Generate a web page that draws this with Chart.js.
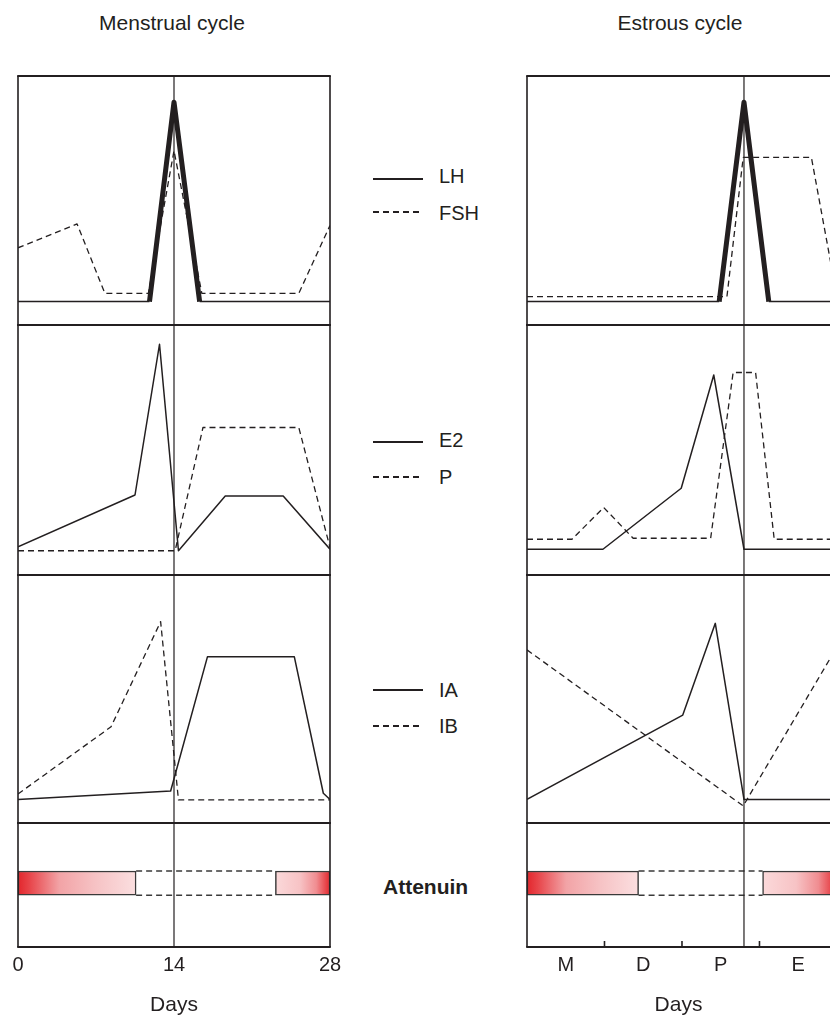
<!DOCTYPE html>
<html>
<head>
<meta charset="utf-8">
<script src="https://cdn.jsdelivr.net/npm/chart.js@4.4.0/dist/chart.umd.min.js"></script>
<style>
html,body{margin:0;padding:0;background:#fff;}
body{width:830px;height:1016px;overflow:hidden;position:relative;font-family:"Liberation Sans",Arial,Helvetica,sans-serif;color:#231f20;}
.txt{position:absolute;white-space:nowrap;line-height:1;}
.title{font-size:21px;width:300px;text-align:center;}
.lg{font-size:20px;left:439px;}
.sw{position:absolute;width:50px;left:373px;}
.solid{height:2px;background:#231f20;}
.dash{height:1.6px;background:repeating-linear-gradient(to right,#231f20 0 6px,transparent 6px 10px);}
.bold{font-size:21px;font-weight:bold;left:383px;}
canvas{position:absolute;}
</style>
</head>
<body>
<div class="txt title" style="left:22px;top:12px">Menstrual cycle</div>
<div class="txt title" style="left:530px;top:12px">Estrous cycle</div>

<div class="sw solid" style="top:178px"></div><div class="txt lg" style="top:166.4px">LH</div>
<div class="sw dash" style="top:211px"></div><div class="txt lg" style="top:203.1px">FSH</div>

<div class="sw solid" style="top:441px"></div><div class="txt lg" style="top:430.4px">E2</div>
<div class="sw dash" style="top:476px"></div><div class="txt lg" style="top:467.1px">P</div>

<div class="sw solid" style="top:689px"></div><div class="txt lg" style="top:679.6px">IA</div>
<div class="sw dash" style="top:725px"></div><div class="txt lg" style="top:716px">IB</div>

<div class="txt bold" style="top:876.2px">Attenuin</div>

<script>
// ---------- DATA ----------
// Menstrual cycle (x = day of cycle)
const menstrualTickDays = [0, 14, 28];
const menstrualTickLabels = ['0', '14', '28'];
const menstrualOvulationDay = 14;

const lhDaysM  = [0, 11.8, 14, 16.3, 28];
const lhValsM  = [9.4, 9.4, 89.5, 9.4, 9.4];
const fshDaysM = [0, 5.3, 7.8, 11.7, 14, 16.5, 25.2, 28];
const fshValsM = [31, 40.6, 12.7, 12.7, 70, 12.7, 12.7, 40];

const e2DaysM  = [0, 10.5, 12.7, 14.4, 18.6, 23.8, 28];
const e2ValsM  = [11.3, 32, 92.3, 9.7, 31.6, 31.6, 10.3];
const pDaysM   = [0, 14.1, 16.6, 25.2, 28];
const pValsM   = [9.7, 9.7, 59, 59, 11];

const iaDaysM  = [0, 13.7, 17, 24.8, 27.4, 28];
const iaValsM  = [9.5, 12.9, 67, 67, 12, 9.5];
const ibDaysM  = [0, 8.35, 12.8, 14.4, 28];
const ibValsM  = [11.7, 38.8, 81.2, 9.3, 9.3];

const attenuinHighM = [[0, 10.6], [23.1, 28]];
const attenuinLowM  = [10.6, 23.1];

// Estrous cycle (x = phase units: M, D, P, E)
const estrousPhaseLabels = ['M', 'D', 'P', 'E'];
const estrousLabelPos    = [0.5, 1.5, 2.5, 3.5];
const estrousPhaseBounds = [1, 2, 3];
const estrousOvulation   = 2.8;

const lhX_E  = [0, 2.48, 2.8, 3.12, 4];
const lhV_E  = [9.4, 9.4, 89.5, 9.4, 9.4];
const fshX_E = [0, 2.58, 2.79, 3.67, 4];
const fshV_E = [11.4, 11.4, 67.3, 67.3, 11.4];

const e2X_E  = [0, 0.98, 1.99, 2.41, 2.8, 4];
const e2V_E  = [10.3, 10.3, 34.7, 80, 10.3, 10.3];
const pX_E   = [0, 0.58, 0.99, 1.37, 2.37, 2.66, 2.95, 3.19, 4];
const pV_E   = [14.3, 14.3, 27, 14.7, 14.7, 81, 81, 14.3, 14.3];

const iaX_E  = [0, 2.01, 2.43, 2.8, 4];
const iaV_E  = [9.5, 43.5, 80.5, 9.5, 9.5];
const ibX_E  = [0, 2.79, 4];
const ibV_E  = [69.8, 6.9, 71];

const attenuinHighE = [[0, 1.44], [3.04, 4]];
const attenuinLowE  = [1.44, 3.04];

// ---------- STYLE / LAYOUT ----------
const INK = '#231f20';
const FONT = "'Liberation Sans', Arial, Helvetica, sans-serif";
const BAND_MID = 51.5, BAND_TOP = 61.3, BAND_BOT = 41.7;
const FADE_OUT = [[0,'#e3262c'],[0.1,'#e8464b'],[0.35,'#f2a3a6'],[0.65,'#f6c2c4'],[1,'#fbdfe0']];
const FADE_IN  = [[0,'#fbd9da'],[0.45,'#f7c3c5'],[0.75,'#f08d91'],[1,'#e3262c']];

const cols = {
  M: {left: 18, right: 330, padL: 24, padR: 24, max: 28, marker: menstrualOvulationDay, rightBorder: true},
  E: {left: 527, right: 830, padL: 6, padR: 0, max: 3.91, marker: estrousOvulation, rightBorder: false}
};
const rows = [
  {top: 76, bottom: 325},
  {top: 325, bottom: 575},
  {top: 575, bottom: 823},
  {top: 823, bottom: 947}
];
const PAGE_H = 1016;

const framePlugin = {
  id: 'frame',
  afterDatasetsDraw(chart, args, o) {
    const {ctx, chartArea: a, scales} = chart;
    const ln = (x0, y0, x1, y1) => { ctx.beginPath(); ctx.moveTo(x0, y0); ctx.lineTo(x1, y1); ctx.stroke(); };
    ctx.save();
    ctx.strokeStyle = INK;
    ctx.lineWidth = 2.2;
    ln(a.left - 0.8, a.top, a.right + 0.8, a.top);
    ln(a.left - 0.8, a.bottom, a.right + 0.8, a.bottom);
    ctx.lineWidth = 1.6;
    ln(a.left, a.top, a.left, a.bottom);
    if (o.rightBorder) ln(a.right, a.top, a.right, a.bottom);
    ctx.lineWidth = 1.2;
    const mx = scales.x.getPixelForValue(o.marker);
    ln(mx, a.top, mx, a.bottom);
    ctx.lineWidth = 1.6;
    (o.innerTicks || []).forEach(v => {
      const x = scales.x.getPixelForValue(v);
      ln(x, a.bottom, x, a.bottom - 6);
    });
    ctx.restore();
  }
};

function lineDs(label, xs, ys, dashed, thick) {
  const ds = {
    type: 'line',
    label,
    data: xs.map((x, i) => ({x, y: ys[i]})),
    borderColor: INK,
    borderWidth: dashed ? 1.3 : 1.5,
    borderDash: dashed ? [6, 4] : [],
    borderJoinStyle: 'round',
    pointRadius: 0,
    tension: 0,
    fill: false
  };
  if (thick) {
    ds.segment = {
      borderWidth: c => (c.p0DataIndex >= thick[0] && c.p1DataIndex <= thick[1]) ? 5 : 1.5
    };
  }
  return ds;
}

function makeCanvas(col, row, isBottom) {
  const cv = document.createElement('canvas');
  const left = col.left - col.padL;
  const width = (col.right + col.padR) - left;
  const top = row.top - 6;
  const height = isBottom ? PAGE_H - top : (row.bottom + 6) - top;
  cv.width = width; cv.height = height;
  cv.style.left = left + 'px'; cv.style.top = top + 'px';
  cv.style.width = width + 'px'; cv.style.height = height + 'px';
  document.body.appendChild(cv);
  return cv;
}

function xScale(col, bottom) {
  const s = {type: 'linear', min: 0, max: col.max, offset: false, display: !!bottom, grid: {offset: false}};
  if (bottom) {
    Object.assign(s, {
      position: 'bottom',
      grid: {display: false, drawTicks: false, offset: false},
      border: {display: false},
      afterBuildTicks: sc => { sc.ticks = bottom.pos.map(v => ({value: v})); },
      afterFit: sc => { sc.height = PAGE_H - rows[3].bottom; },
      ticks: {
        autoSkip: false, maxRotation: 0, minRotation: 0, padding: 6,
        color: INK, font: {family: FONT, size: 20},
        callback: (v, i) => bottom.labels[i]
      },
      title: {display: true, text: 'Days', color: INK, font: {family: FONT, size: 21, lineHeight: 1}, padding: 0}
    });
  }
  return s;
}

function makeChart(colKey, rowIdx, datasets, bottom, innerTicks) {
  const col = cols[colKey];
  const row = rows[rowIdx];
  const isBottom = rowIdx === 3;
  const cv = makeCanvas(col, row, isBottom);
  return new Chart(cv, {
    type: isBottom ? 'bar' : 'line',
    data: {datasets},
    options: {
      responsive: false,
      animation: false,
      events: [],
      layout: {padding: {left: col.padL, right: col.padR, top: 6, bottom: isBottom ? 0 : 6}},
      plugins: {
        legend: {display: false},
        tooltip: {enabled: false},
        frame: {marker: col.marker, rightBorder: col.rightBorder, innerTicks: innerTicks || []}
      },
      scales: {
        x: xScale(col, isBottom ? bottom : null),
        y: {type: 'linear', min: 0, max: 100, offset: false, display: false}
      }
    },
    plugins: [framePlugin]
  });
}

function attenuinSets(highs, low) {
  return [
    {
      type: 'bar',
      indexAxis: 'y',
      label: 'Attenuin',
      data: highs.map(r => ({x: r, y: BAND_MID})),
      barThickness: 24.3,
      borderColor: '#3a3a3a',
      borderWidth: 1.5,
      borderSkipped: false,
      backgroundColor: c => {
        if (c.type !== 'data' || !c.chart.scales.x) return '#f3a5a8';
        const xs = c.chart.scales.x;
        const r = c.raw.x;
        const x0 = xs.getPixelForValue(r[0]), x1 = xs.getPixelForValue(r[1]);
        if (!isFinite(x0) || !isFinite(x1)) return '#f3a5a8';
        const g = c.chart.ctx.createLinearGradient(x0, 0, x1, 0);
        (c.dataIndex === 0 ? FADE_OUT : FADE_IN).forEach(([o, col]) => g.addColorStop(o, col));
        return g;
      }
    },
    lineDs('Attenuin low (top)', low, [BAND_TOP, BAND_TOP], true),
    lineDs('Attenuin low (bottom)', low, [BAND_BOT, BAND_BOT], true)
  ].map(d => { if (d.type === 'line') { d.borderColor = '#3a3a3a'; d.borderWidth = 1.5; } return d; });
}

// Menstrual column
makeChart('M', 0, [lineDs('LH', lhDaysM, lhValsM, false, [1, 3]), lineDs('FSH', fshDaysM, fshValsM, true)]);
makeChart('M', 1, [lineDs('E2', e2DaysM, e2ValsM, false), lineDs('P', pDaysM, pValsM, true)]);
makeChart('M', 2, [lineDs('IA', iaDaysM, iaValsM, false), lineDs('IB', ibDaysM, ibValsM, true)]);
makeChart('M', 3, attenuinSets(attenuinHighM, attenuinLowM), {pos: menstrualTickDays, labels: menstrualTickLabels});

// Estrous column
makeChart('E', 0, [lineDs('LH', lhX_E, lhV_E, false, [1, 3]), lineDs('FSH', fshX_E, fshV_E, true)]);
makeChart('E', 1, [lineDs('E2', e2X_E, e2V_E, false), lineDs('P', pX_E, pV_E, true)]);
makeChart('E', 2, [lineDs('IA', iaX_E, iaV_E, false), lineDs('IB', ibX_E, ibV_E, true)]);
makeChart('E', 3, attenuinSets(attenuinHighE, attenuinLowE), {pos: estrousLabelPos, labels: estrousPhaseLabels}, estrousPhaseBounds);
</script>
</body>
</html>
